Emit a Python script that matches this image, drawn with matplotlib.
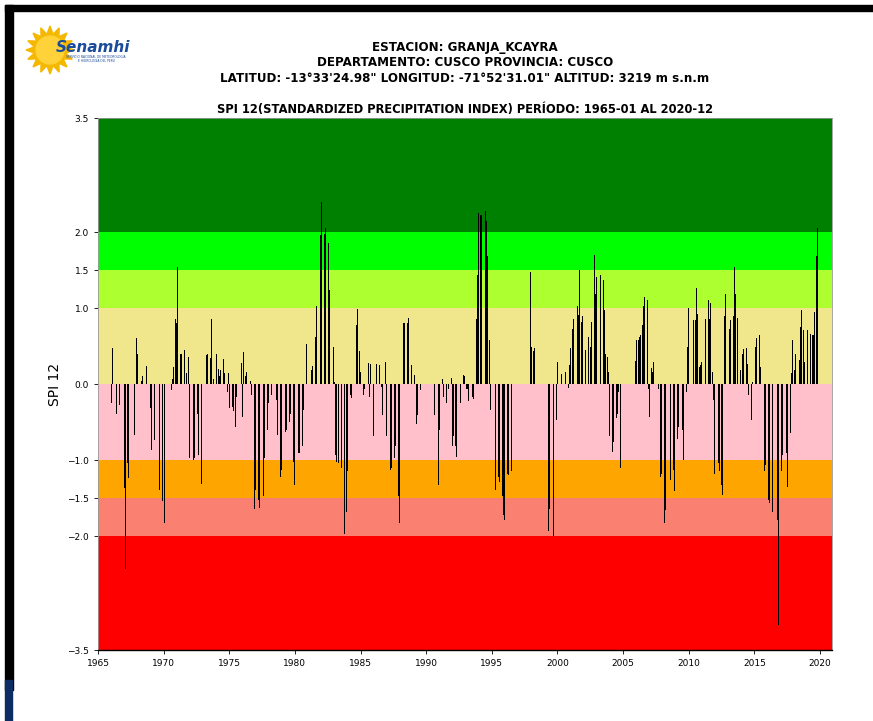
"""SPI-12 monthly bars for station GRANJA_KCAYRA (Senamhi style chart)."""
import numpy as np
import matplotlib
matplotlib.use("Agg")
import matplotlib.pyplot as plt
from matplotlib.patches import Polygon, Rectangle

plt.rcParams["font.family"] = ["DejaVu Sans"]

START_YEAR = 1965
END_YEAR = 2020

# month offset from 1965-01 and SPI-12 value
month_idx = [
    12, 13, 17, 20, 21, 24, 25, 27, 28, 32, 33, 35, 36, 40, 41, 43, 44, 48, 49, 52,
    53, 56, 59, 61, 64, 67, 68, 69, 71, 72, 73, 75, 76, 79, 81,
    83, 84, 87, 88, 91, 92, 95, 96, 99, 100, 103, 104, 106, 108, 110, 111, 112, 115, 116,
    118, 119, 120, 123, 124, 126, 127, 131, 132, 133, 135, 136, 139, 140, 143, 144, 147,
    148, 151, 152, 155, 156, 159, 160, 163, 164,
    167, 168, 171, 172, 175, 176, 179, 180, 183, 184, 187, 188, 191, 192, 195, 196, 199,
    200, 203, 204, 207, 208, 211, 212, 215, 216, 217, 218, 220, 223, 224, 225, 227, 228,
    231, 232, 236, 237, 239, 240, 243, 244,
    247, 248, 249, 252, 255, 256, 257, 259, 260, 263, 264, 267, 268, 271, 272, 275, 276,
    279, 280, 283, 284, 287, 288, 289, 291, 292, 295, 308, 309, 311, 312, 315, 316, 319,
    320, 323, 324, 325, 327, 328,
    330, 331, 334, 335, 337, 338, 339, 342, 343, 346, 347, 348, 350, 351, 354, 355, 356,
    358, 359, 362, 363, 366, 367, 370, 371, 372, 374, 375, 378, 394, 395, 396, 398, 399,
    412, 413, 415, 416, 419, 420, 424, 426, 427, 430, 431, 432, 434, 435, 438, 439, 440,
    442, 443, 446, 447, 448, 450, 451, 454, 455, 456, 458, 459, 462, 463, 464, 466, 467,
    468, 470, 471, 474, 475, 476, 478, 491, 492,
    494, 495, 496, 498, 499, 500, 502, 503, 504, 506, 507, 508, 511, 512, 514, 515, 518,
    519, 522, 523, 526, 527, 530, 531, 534, 535, 538, 539, 540, 543, 544, 546, 547, 548,
    550, 551, 552, 554, 555, 558, 559, 560, 562, 563, 564, 567, 568, 570, 571,
    573, 574, 577, 578, 581, 582, 583, 585, 586, 587, 589, 590, 593, 594, 595, 597, 598,
    601, 602, 605, 606, 607, 609, 610, 613, 614, 617, 618, 621, 622, 625, 626, 629, 630,
    633, 634, 635, 637, 638, 641, 642, 643, 645, 646, 649, 650, 651, 653, 654, 655, 657,
    658,
]
spi_values = [
    -0.25, 0.47, -0.39, -0.28, -0.20, -1.37, -2.43, -1.04, -1.24, -0.85, -0.67, 0.60, 0.39,
    0.04, 0.10, 0.25, 0.24, -0.32, -0.87, -0.74, -0.76, -1.39, -1.54, -1.83, -0.14, -0.08,
    0.07, 0.23, 0.86, 0.80, 1.54, 0.40, 0.40, 0.45, 0.15,
    0.35, -0.98, -1.00, -0.98, -0.39, -0.93, -1.31, -0.85, 0.38, 0.39, 0.34, 0.86, 0.07,
    0.40, 0.20, 0.10, 0.18, 0.33, 0.14, -0.11, 0.14, -0.32, -0.30, -0.36, -0.56, -0.17,
    0.27, -0.43, 0.42, 0.10, 0.16, 0.04, -0.14, -1.64, -1.39, -1.53, -1.63, -1.48, -0.98,
    -0.61, -0.25, -0.14, -0.12, -0.21, -0.67,
    -1.22, -1.13, -0.63, -0.61, -0.50, -0.39, -1.02, -1.33, -0.91, -0.91, -0.82, -0.34,
    0.53, -0.10, 0.18, 0.24, 0.62, 1.02, 1.96, 2.39, 1.98, 2.05, 1.85, 1.24, 0.49, 0.03,
    -0.93, -1.02, -1.04, -1.11, -2.00, -1.97, -1.68, -1.15, -0.14, -0.19, 0.78, 0.99, 0.43,
    0.16, -0.14, -0.06,
    0.27, -0.17, 0.26, -0.69, 0.26, 0.16, 0.25, -0.04, -0.41, 0.29, -0.69, -1.13, -1.11,
    -0.98, -0.82, -1.48, -1.83, 0.80, 0.80, 0.80, 0.87, 0.25, 0.65, 0.12, -0.52, -0.41,
    -0.08, -0.41, -0.13, -1.33, -0.61, 0.07, -0.17, -0.25, -0.06, 0.08, -0.82, -0.69,
    -0.82, -0.96,
    -0.65, -0.25, 0.12, 0.10, -0.06, -0.06, -0.23, -0.17, -0.20, 0.86, 1.43, 2.25, 2.22,
    2.22, 2.28, 2.14, 1.68, 0.58, -0.34, -1.37, -1.39, -1.22, -1.29, -1.48, -1.72, -1.79,
    -1.18, -1.20, -1.15, 1.15, 1.47, 0.49, 0.43, 0.47,
    -1.94, -1.64, -1.88, -2.00, -0.47, 0.29, 0.13, -0.14, 0.16, -0.05, 0.25, 0.47, 0.73,
    0.86, 1.02, 0.91, 1.50, 0.82, 0.89, 0.45, 0.47, 0.62, 0.49, 0.82, 1.70, 1.19, 1.41,
    1.39, 1.43, 1.37, 0.97, 0.39, 0.36, 0.16, -0.69, -0.89, -0.76, -0.45, -0.39, -0.10,
    -1.11, 0.30, 0.58,
    0.58, 0.62, 0.64, 0.78, 1.02, 1.14, 1.11, -0.06, -0.44, 0.21, 0.16, 0.29, 0.14, -0.06,
    -1.22, -1.18, -1.83, -1.66, -1.57, -1.26, -1.13, -1.41, -0.72, -0.56, -0.61, -1.00,
    -0.10, 0.49, 1.00, 0.80, 0.84, 0.84, 1.26, 0.92, 0.23, 0.25, 0.29, 0.75, 0.85, 1.10,
    0.86, 1.07, 0.16, -0.21, -1.18, -1.04, -1.15, -1.33, -1.46,
    0.89, 1.18, 0.73, 0.84, 0.89, 1.54, 1.18, 0.87, 0.58, 0.18, 0.40, 0.46, 0.47, 0.26,
    -0.14, -0.47, 0.03, 0.49, 0.61, 0.64, 0.23, 0.10, -1.15, -1.06, -1.53, -1.57, -1.68,
    -1.15, -1.79, -3.17, -1.15, -0.93, -0.91, -1.36, -0.65, 0.14, 0.58, 0.18, 0.40, 0.32,
    0.75, 0.97, 0.71, 0.29, 0.71, 0.68, 0.66, 0.64, 0.65, 0.95, 1.68, 2.05,
]

# SPI class bands (lower, upper, colour)
band_limits = [(2.0, 3.5), (1.5, 2.0), (1.0, 1.5), (0.0, 1.0),
               (-1.0, 0.0), (-1.5, -1.0), (-2.0, -1.5), (-3.5, -2.0)]
band_colors = ["green", "lime", "greenyellow", "khaki",
               "pink", "orange", "salmon", "red"]

y_ticks = [3.5, 2.0, 1.5, 1.0, 0.0, -1.0, -1.5, -2.0, -3.5]
x_ticks = list(range(1965, 2021, 5))

station_lines = [
    "ESTACION: GRANJA_KCAYRA",
    "DEPARTAMENTO: CUSCO PROVINCIA: CUSCO",
    "LATITUD: -13°33'24.98\" LONGITUD: -71°52'31.01\" ALTITUD: 3219 m s.n.m",
]
chart_title = "SPI 12(STANDARDIZED PRECIPITATION INDEX) PERÍODO: 1965-01 AL 2020-12"

W, H = 873, 721
fig = plt.figure(figsize=(W / 100, H / 100), dpi=100)

# pixel-space overlay for frame, logo and header
bg = fig.add_axes([0, 0, 1, 1], zorder=0)
bg.set_xlim(0, W)
bg.set_ylim(H, 0)
bg.axis("off")
bg.add_patch(Rectangle((5, 5), W - 5, 6, color="black"))
bg.add_patch(Rectangle((5, 5), 8, 685, color="black"))
bg.add_patch(Rectangle((5, 680), 7, 41, color="#0b2d63"))

# Senamhi logo: sun plus wordmark
ang = np.linspace(0, 2 * np.pi, 33)[:-1]
rad = np.where(np.arange(32) % 2 == 0, 24, 16)
sun = np.column_stack([50 + rad * np.cos(ang), 50 + rad * np.sin(ang)])
bg.add_patch(Polygon(sun, closed=True, color="#f5b800"))
bg.add_patch(Polygon(np.column_stack([50 + 14 * np.cos(ang), 50 + 14 * np.sin(ang)]),
                     closed=True, color="#ffd23a"))
bg.text(93, 47, "Senamhi", fontsize=11, fontweight="bold", fontstyle="italic",
        color="#1b4c9b", ha="center", va="center")
bg.text(96, 59, "SERVICIO NACIONAL DE METEOROLOGÍA\nE HIDROLOGÍA DEL PERÚ",
        fontsize=2.2, color="#1b4c9b", ha="center", va="center")

bg.text(465, 63, "\n".join(station_lines), fontsize=8.6, fontweight="bold",
        ha="center", va="center", linespacing=1.3)
bg.text(465, 109, chart_title, fontsize=8.3, fontweight="bold",
        ha="center", va="center")

ax = fig.add_axes([98 / W, 71 / H, 734 / W, 532 / H], zorder=1)
for (lo, hi), col in zip(band_limits, band_colors):
    ax.axhspan(lo, hi, color=col, zorder=0, lw=0)

x = START_YEAR + np.array(month_idx) / 12.0
ax.bar(x, spi_values, width=0.07, color="black", linewidth=0, zorder=2)

ax.set_xlim(START_YEAR, END_YEAR + 11 / 12)
ax.set_ylim(-3.5, 3.5)
ax.set_yticks(y_ticks)
ax.set_yticklabels([f"{v:.1f}".replace("-", "\u2212") for v in y_ticks])
ax.set_xticks(x_ticks)
ax.tick_params(axis="both", labelsize=6.5, length=3, width=0.6)
ax.set_ylabel("SPI 12", fontsize=10)
for side in ["top", "right", "left"]:
    ax.spines[side].set_color("#999999")
    ax.spines[side].set_linewidth(0.6)
ax.spines["bottom"].set_linewidth(1.0)

fig.savefig("out.png", dpi=100)
